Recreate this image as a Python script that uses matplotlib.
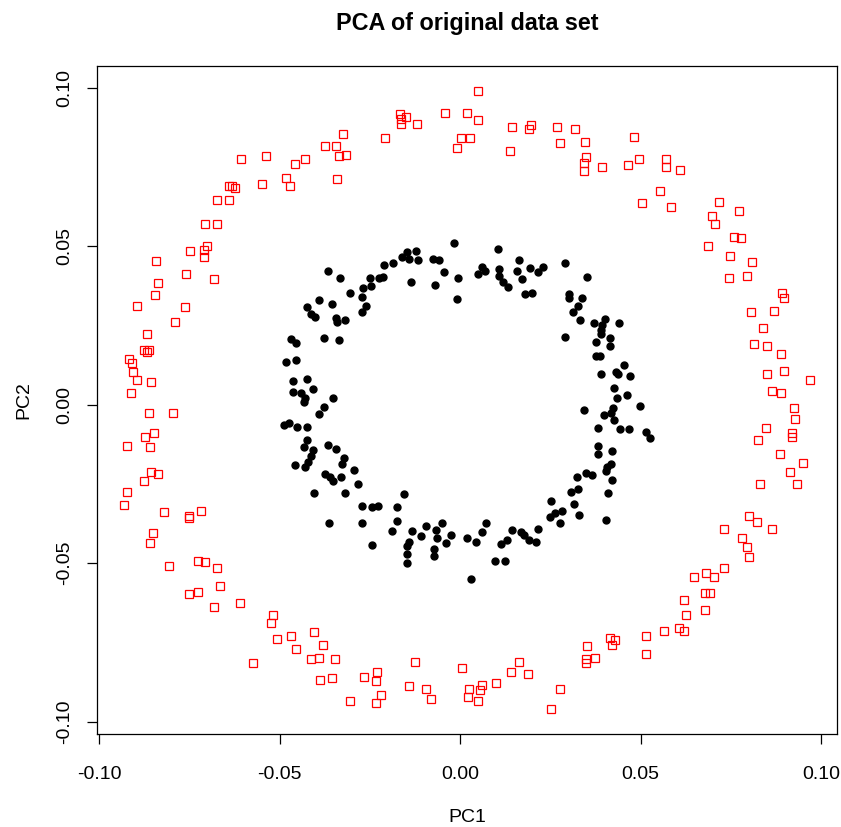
import matplotlib
matplotlib.use("Agg")
import matplotlib.pyplot as plt

# outer ring (red open squares)
red_pc1 = [
    -0.0606, -0.0539, -0.0456, -0.0430, -0.0375, -0.0344, -0.0335, -0.0341, -0.0482, -0.0471,
    -0.0550, -0.0639, -0.0632, -0.0624, -0.0674, -0.0640, -0.0706, -0.0674, -0.0702, -0.0748,
    -0.0709, -0.0709, -0.0843, -0.0758, -0.0681, -0.0837,
    -0.0324, -0.0317, 0.0049, -0.0167, -0.0149, -0.0163, -0.0163, -0.0120, -0.0209, -0.0043,
    0.0019, 0.0049, 0.0003, 0.0028, -0.0008, 0.0145, 0.0195, 0.0191, 0.0138, 0.0269,
    0.0319, 0.0276, 0.0347, 0.0350, 0.0344, 0.0344,
    0.0481, 0.0393, 0.0465, 0.0496, 0.0571, 0.0571, 0.0609, 0.0554, 0.0504, 0.0585,
    0.0716, 0.0698, 0.0706, 0.0773, 0.0759, 0.0777, 0.0687, 0.0748, 0.0808, 0.0744, 0.0794,
    -0.0844, -0.0894, -0.0762, -0.0791, -0.0866, -0.0875, -0.0861, -0.0868, -0.0916, -0.0908,
    -0.0905, -0.0896, -0.0855, -0.0912, -0.0862, -0.0794, -0.0847, -0.0872, -0.0922, -0.0858,
    -0.0855, -0.0837, -0.0876, -0.0922, -0.0930, -0.0819, -0.0752, -0.0750, -0.0719,
    -0.0851, -0.0858, -0.0806, -0.0727, -0.0706, -0.0674, -0.0666, -0.0727, -0.0752, -0.0681,
    -0.0610, -0.0519, -0.0525, -0.0506, -0.0469, -0.0454, -0.0404, -0.0379, -0.0412, -0.0390,
    -0.0347, -0.0575, -0.0388, -0.0355,
    -0.0305, -0.0266, -0.0231, -0.0234, -0.0220, -0.0234, -0.0124, -0.0142, -0.0095, -0.0081,
    0.0006, 0.0024, 0.0022, 0.0054, 0.0060, 0.0049, 0.0099, 0.0142, 0.0163, 0.0188,
    0.0277, 0.0252, 0.0352, 0.0350, 0.0350,
    0.0375, 0.0415, 0.0429, 0.0422, 0.0515, 0.0515, 0.0564, 0.0606, 0.0620, 0.0627,
    0.0620, 0.0677, 0.0677, 0.0691, 0.0648, 0.0681, 0.0702, 0.0730, 0.0730, 0.0780,
    0.0794, 0.0801, 0.0822, 0.0865,
    0.0892, 0.0896, 0.0806, 0.0869, 0.0840, 0.0815, 0.0851, 0.0888, 0.0851, 0.0897,
    0.0968, 0.0865, 0.0890, 0.0925, 0.0929, 0.0847, 0.0824, 0.0918, 0.0919, 0.0886,
    0.0950, 0.0915, 0.0831, 0.0932, 0.0801,
]
red_pc2 = [
    0.0776, 0.0783, 0.0759, 0.0776, 0.0816, 0.0816, 0.0784, 0.0711, 0.0715, 0.0691,
    0.0695, 0.0691, 0.0691, 0.0682, 0.0646, 0.0646, 0.0571, 0.0571, 0.0501, 0.0485,
    0.0488, 0.0465, 0.0453, 0.0413, 0.0396, 0.0385,
    0.0852, 0.0787, 0.0990, 0.0917, 0.0908, 0.0901, 0.0884, 0.0884, 0.0840, 0.0921,
    0.0921, 0.0897, 0.0840, 0.0840, 0.0808, 0.0877, 0.0881, 0.0870, 0.0799, 0.0877,
    0.0869, 0.0825, 0.0828, 0.0780, 0.0763, 0.0736,
    0.0843, 0.0748, 0.0755, 0.0775, 0.0775, 0.0748, 0.0739, 0.0674, 0.0635, 0.0623,
    0.0639, 0.0596, 0.0571, 0.0611, 0.0530, 0.0526, 0.0501, 0.0469, 0.0449, 0.0400, 0.0405,
    0.0345, 0.0312, 0.0308, 0.0259, 0.0224, 0.0171, 0.0171, 0.0167, 0.0143, 0.0131,
    0.0104, 0.0078, 0.0070, 0.0037, -0.0027, -0.0027, -0.0091, -0.0103, -0.0131, -0.0135,
    -0.0212, -0.0220, -0.0240, -0.0276, -0.0317, -0.0339, -0.0351, -0.0357, -0.0337,
    -0.0405, -0.0437, -0.0510, -0.0494, -0.0498, -0.0514, -0.0571, -0.0591, -0.0598, -0.0639,
    -0.0627, -0.0664, -0.0688, -0.0739, -0.0729, -0.0772, -0.0716, -0.0759, -0.0804, -0.0800,
    -0.0804, -0.0816, -0.0869, -0.0864,
    -0.0934, -0.0860, -0.0844, -0.0873, -0.0917, -0.0941, -0.0812, -0.0889, -0.0897, -0.0930,
    -0.0832, -0.0897, -0.0921, -0.0901, -0.0884, -0.0934, -0.0877, -0.0844, -0.0812, -0.0849,
    -0.0897, -0.0961, -0.0763, -0.0801, -0.0814,
    -0.0800, -0.0735, -0.0743, -0.0759, -0.0731, -0.0788, -0.0715, -0.0706, -0.0715, -0.0664,
    -0.0618, -0.0647, -0.0594, -0.0594, -0.0545, -0.0530, -0.0545, -0.0517, -0.0393, -0.0420,
    -0.0449, -0.0481, -0.0370, -0.0393,
    0.0351, 0.0336, 0.0292, 0.0295, 0.0241, 0.0192, 0.0184, 0.0159, 0.0098, 0.0107,
    0.0078, 0.0042, 0.0037, -0.0010, -0.0047, -0.0074, -0.0111, -0.0091, -0.0102, -0.0155,
    -0.0184, -0.0212, -0.0249, -0.0249, -0.0350,
]

# inner ring (black filled circles)
black_pc1 = [
    -0.0016, -0.0366, -0.0333, -0.0162, -0.0146, -0.0142, -0.0123, -0.0116, -0.0185, -0.0210,
    -0.0213, -0.0225, -0.0249, -0.0247, -0.0268, -0.0306, -0.0271, -0.0260, -0.0271, -0.0137,
    -0.0076, -0.0058, -0.0044, -0.0069, -0.0005, -0.0008, -0.0390, -0.0355, -0.0423, -0.0412,
    -0.0403, -0.0345, -0.0340, -0.0319, -0.0468, -0.0454, -0.0377, -0.0336, -0.0483, -0.0454,
    -0.0464, -0.0423, -0.0462, -0.0440, -0.0407, -0.0432, -0.0429, -0.0351, -0.0377, -0.0392,
    0.0105, 0.0062, 0.0069, 0.0049, 0.0109, 0.0109, 0.0120, 0.0134, 0.0162, 0.0158,
    0.0171, 0.0194, 0.0216, 0.0229, 0.0179, 0.0199, 0.0290, 0.0351, 0.0301, 0.0303,
    0.0339, 0.0327, 0.0312, 0.0332, 0.0370, 0.0401, 0.0392, 0.0389, 0.0389, 0.0439,
    0.0290, 0.0376, 0.0414, 0.0415, 0.0377, 0.0388, 0.0454, 0.0432, 0.0437, 0.0470,
    0.0389, 0.0426, 0.0435, 0.0463, 0.0499, 0.0343, 0.0424, 0.0398, 0.0417,
    -0.0488, -0.0475, -0.0451, -0.0423, -0.0423, -0.0433, -0.0407, -0.0414, -0.0421, -0.0431,
    -0.0458, -0.0366, -0.0344, -0.0323, -0.0327, -0.0295, -0.0373, -0.0361, -0.0351, -0.0329,
    -0.0284, -0.0405, -0.0319, -0.0271, -0.0245, -0.0227, -0.0176, -0.0156, -0.0364, -0.0273,
    -0.0176, -0.0190, -0.0245, -0.0132, -0.0108, -0.0095, -0.0142, -0.0148, -0.0146, -0.0146,
    -0.0068, -0.0065, -0.0050, -0.0026, -0.0040, -0.0072, -0.0071, 0.0019, 0.0043, 0.0060,
    0.0073, 0.0029, 0.0097, 0.0125, 0.0112, 0.0131, 0.0145, 0.0169, 0.0176, 0.0190,
    0.0210, 0.0216, 0.0251, 0.0250, 0.0264, 0.0282, 0.0276, 0.0315, 0.0329, 0.0306,
    0.0326, 0.0325, 0.0350, 0.0366, 0.0403, 0.0410, 0.0421, 0.0403, 0.0407, 0.0417,
    0.0381, 0.0381, 0.0421, 0.0381, 0.0426, 0.0444, 0.0468, 0.0514, 0.0525,
]
black_pc2 = [
    0.0509, 0.0422, 0.0398, 0.0467, 0.0480, 0.0458, 0.0485, 0.0456, 0.0448, 0.0439,
    0.0403, 0.0398, 0.0398, 0.0374, 0.0369, 0.0351, 0.0338, 0.0311, 0.0293, 0.0386,
    0.0459, 0.0457, 0.0418, 0.0377, 0.0398, 0.0333, 0.0329, 0.0316, 0.0308, 0.0287,
    0.0275, 0.0274, 0.0261, 0.0268, 0.0206, 0.0194, 0.0209, 0.0203, 0.0133, 0.0140,
    0.0074, 0.0080, 0.0040, 0.0035, 0.0049, 0.0009, 0.0020, 0.0020, -0.0009, -0.0030,
    0.0491, 0.0435, 0.0421, 0.0411, 0.0427, 0.0406, 0.0388, 0.0370, 0.0455, 0.0421,
    0.0395, 0.0430, 0.0417, 0.0435, 0.0349, 0.0353, 0.0446, 0.0402, 0.0349, 0.0335,
    0.0337, 0.0312, 0.0292, 0.0268, 0.0256, 0.0269, 0.0251, 0.0235, 0.0222, 0.0256,
    0.0212, 0.0196, 0.0209, 0.0186, 0.0154, 0.0154, 0.0125, 0.0104, 0.0095, 0.0091,
    0.0095, 0.0051, 0.0021, 0.0030, -0.0006, -0.0017, -0.0012, -0.0033, -0.0028,
    -0.0065, -0.0059, -0.0071, -0.0071, -0.0112, -0.0133, -0.0144, -0.0162, -0.0180, -0.0196,
    -0.0191, -0.0126, -0.0141, -0.0170, -0.0189, -0.0207, -0.0220, -0.0230, -0.0241, -0.0230,
    -0.0252, -0.0279, -0.0279, -0.0319, -0.0323, -0.0319, -0.0323, -0.0283, -0.0372, -0.0372,
    -0.0368, -0.0399, -0.0444, -0.0399, -0.0414, -0.0384, -0.0433, -0.0447, -0.0472, -0.0501,
    -0.0396, -0.0422, -0.0373, -0.0412, -0.0437, -0.0456, -0.0477, -0.0420, -0.0433, -0.0401,
    -0.0375, -0.0549, -0.0493, -0.0493, -0.0440, -0.0428, -0.0396, -0.0401, -0.0412, -0.0426,
    -0.0433, -0.0391, -0.0304, -0.0356, -0.0343, -0.0335, -0.0373, -0.0315, -0.0349, -0.0275,
    -0.0267, -0.0228, -0.0217, -0.0223, -0.0365, -0.0280, -0.0239, -0.0210, -0.0196, -0.0186,
    -0.0157, -0.0130, -0.0146, -0.0073, -0.0049, -0.0077, -0.0077, -0.0086, -0.0104,
]

ticks = [-0.10, -0.05, 0.00, 0.05, 0.10]

plt.rcParams['font.family'] = ['Liberation Sans', 'DejaVu Sans']
plt.rcParams['axes.unicode_minus'] = False

fig = plt.figure(figsize=(8.41, 8.27), dpi=100)
ax = fig.add_axes([0.1153, 0.1125, 0.8799, 0.8077])

ax.plot(red_pc1, red_pc2, 's', ms=5.4, mfc='none', mec='red', mew=0.9, ls='none')
ax.plot(black_pc1, black_pc2, 'o', ms=5.0, color='black', ls='none')

ax.margins(0.04)
ax.set_xticks(ticks)
ax.set_yticks(ticks)
ax.set_xticklabels(['%.2f' % t for t in ticks])
ax.set_yticklabels(['%.2f' % t for t in ticks], rotation=90, va='center')
ax.tick_params(direction='out', length=7, width=0.9, labelsize=14)
ax.tick_params(axis='x', pad=16)
ax.tick_params(axis='y', pad=10)
for s in ax.spines.values():
    s.set_linewidth(0.9)

ax.set_xlabel('PC1', fontsize=14, labelpad=19)
ax.set_ylabel('PC2', fontsize=14, labelpad=17)
ax.set_title('PCA of original data set', fontsize=16.8, fontweight='bold', pad=26)

fig.savefig('out.png', dpi=100)
